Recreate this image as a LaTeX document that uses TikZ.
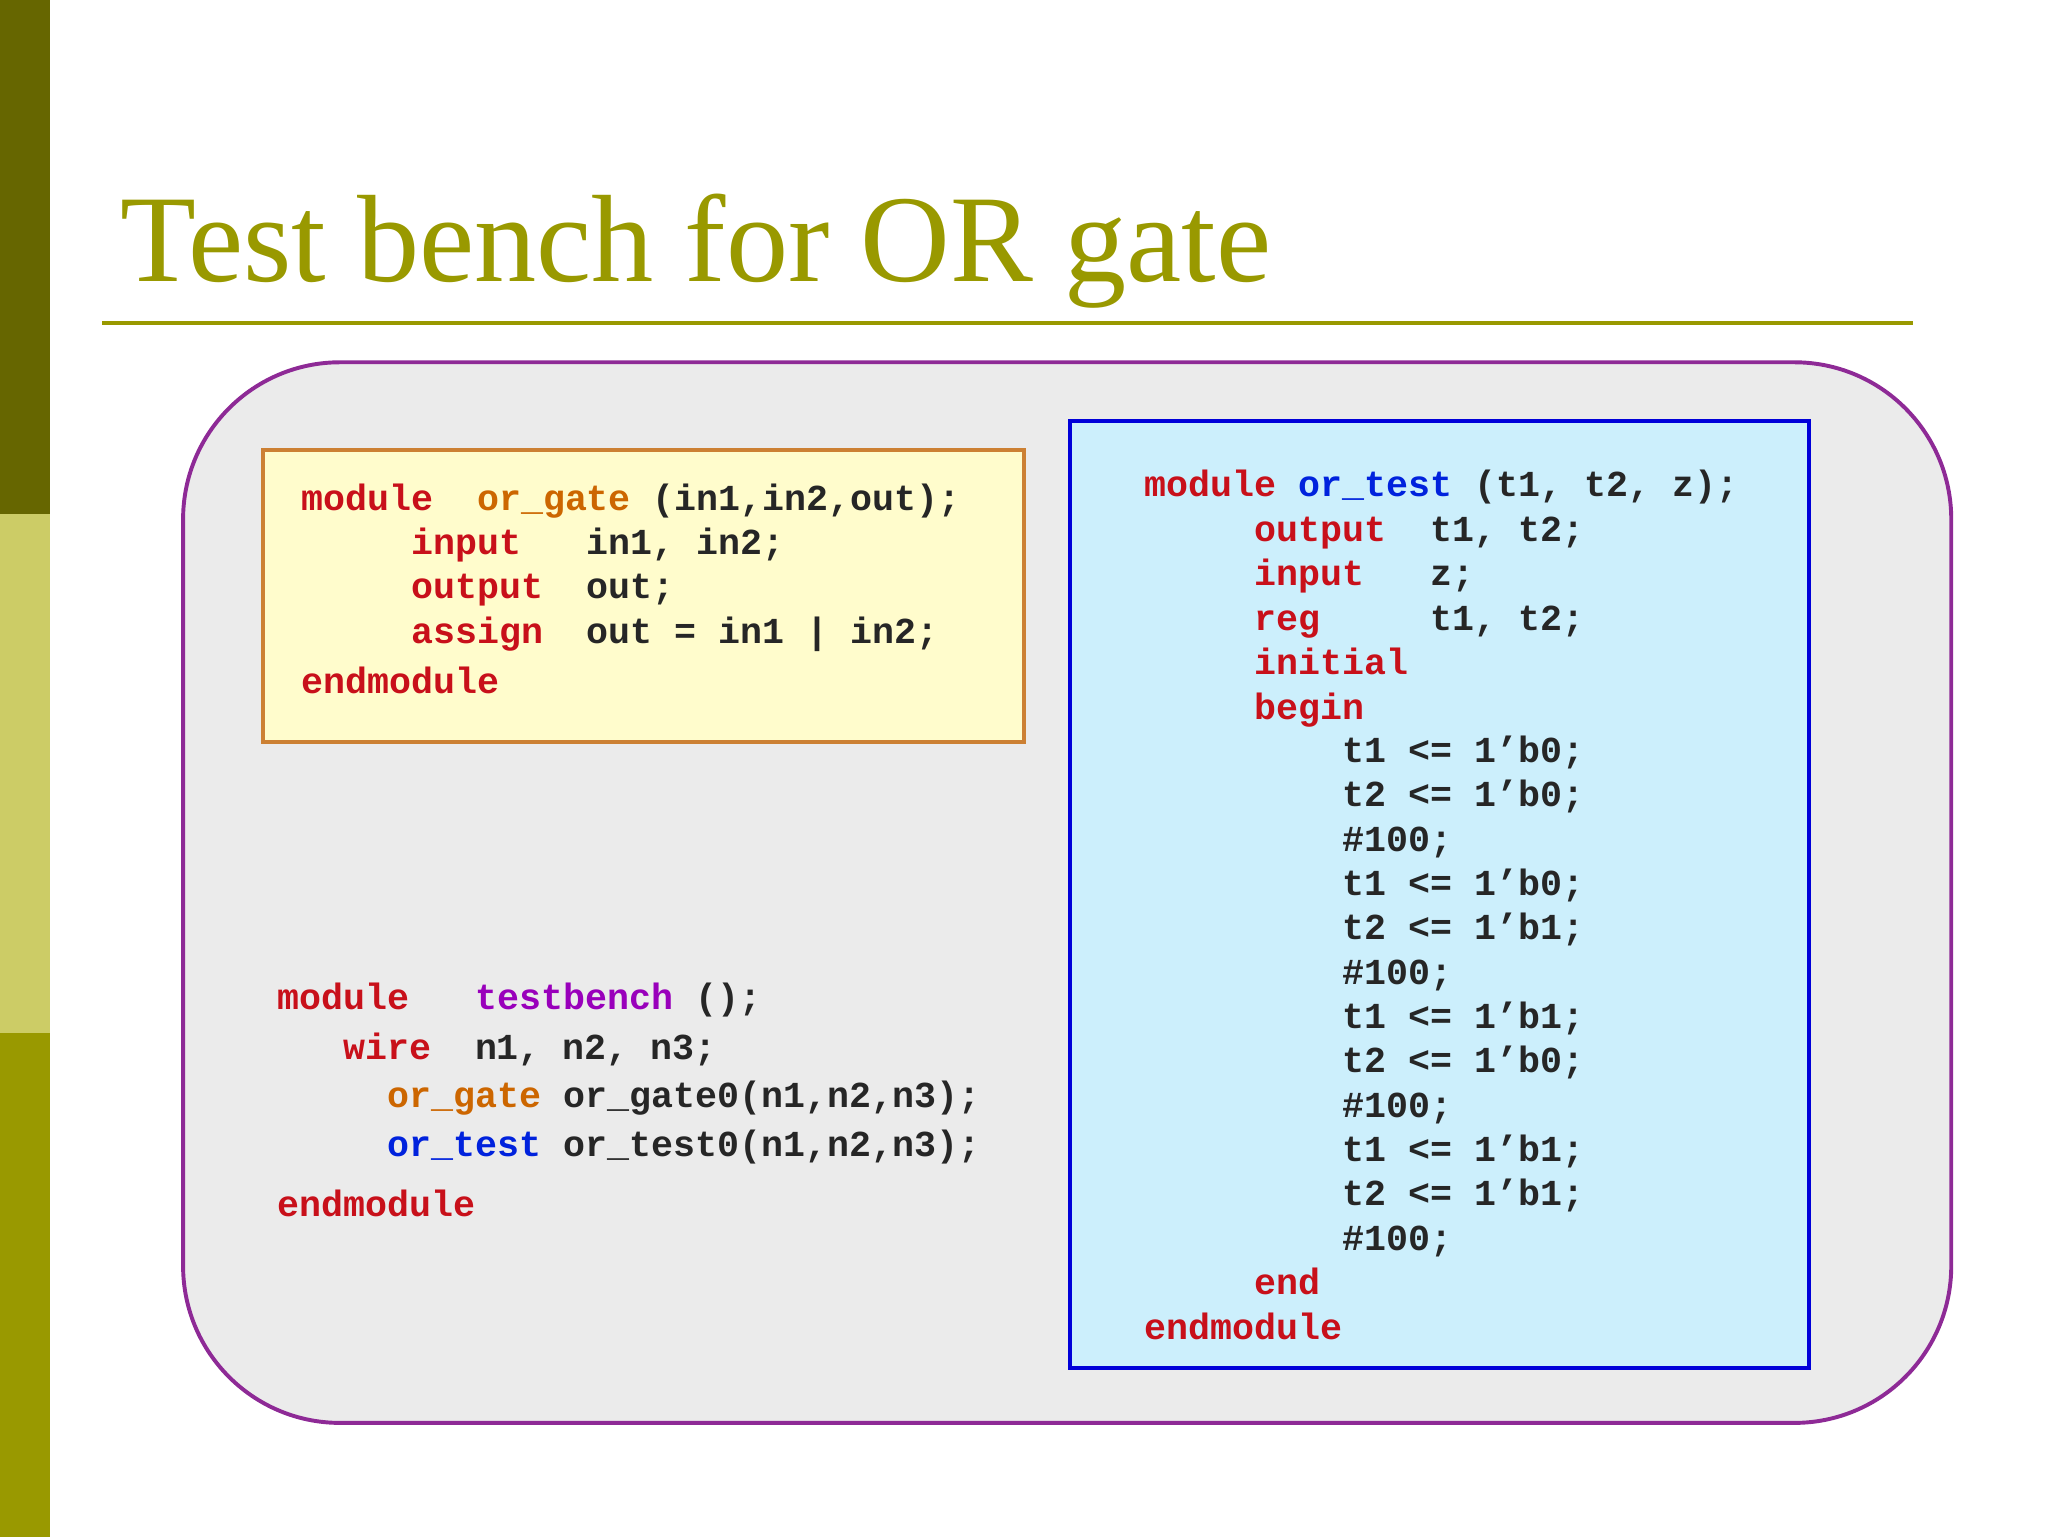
\documentclass[tikz,border=0pt]{standalone}
\usepackage{fontspec}
\setmainfont{Liberation Serif}
\setmonofont{Liberation Mono}
\definecolor{olivedark}{HTML}{666600}
\definecolor{olivelight}{HTML}{CCCC66}
\definecolor{olive}{HTML}{999900}
\definecolor{kw}{HTML}{C8101A}
\definecolor{modnm}{HTML}{CC6600}
\definecolor{tbnm}{HTML}{9900BB}
\definecolor{testnm}{HTML}{0022DD}
\definecolor{panelrim}{HTML}{8E2A96}
\newcommand{\kw}[1]{\textcolor{kw}{#1}}
\tikzset{
  code/.style={anchor=base west,inner sep=0pt,font=\ttfamily\bfseries\fontsize{14}{16}\selectfont,text=black!85},
  panel/.style={line width=1.5pt}
}
\begin{document}
\begin{tikzpicture}[x=0.5pt,y=-0.5pt]
\useasboundingbox (0,0) rectangle (1566,1175);
% side bar
\fill[olivedark] (0,0) rectangle (38,393);
\fill[olivelight] (0,393) rectangle (38,790);
\fill[olive] (0,790) rectangle (38,1175);
% title
\node[anchor=base west,inner sep=0pt,text=olive,font=\fontsize{47.5}{52}\selectfont] (title) at (92,215) {Test bench for OR gate};
\draw[olive,line width=1.2pt] (78,247) -- (1463,247);
% outer panel
\draw[panel,draw=panelrim,fill=black!8,rounded corners=60pt] (140,277) rectangle (1492,1088);
% or_gate module
\draw[panel,draw=brown!80!orange,fill=yellow!20] (201,344) rectangle (783,567);
\node[code] (g1) at (230,390) {\kw{module}~~\textcolor{modnm}{or\_gate} (in1,in2,out);};
\node[code] (g2) at (314,424) {\kw{input}~~~in1, in2;};
\node[code] (g3) at (314,458) {\kw{output}~~out;};
\node[code] (g4) at (314,492) {\kw{assign}~~out = in1 | in2;};
\node[code] (g5) at (230,530) {\kw{endmodule}};
% testbench
\node[code] (b1) at (212,772) {\kw{module}~~~\textcolor{tbnm}{testbench} ();};
\node[code] (b2) at (262,810) {\kw{wire}~~n1, n2, n3;};
\node[code] (b3) at (296,847) {\textcolor{modnm}{or\_gate} or\_gate0(n1,n2,n3);};
\node[code] (b4) at (296,884) {\textcolor{testnm}{or\_test} or\_test0(n1,n2,n3);};
\node[code] (b5) at (212,930) {\kw{endmodule}};
% or_test module
\draw[panel,draw=blue!85!black,fill=cyan!20] (818,322) rectangle (1383,1046);
\node[code] (t1) at (875,380) {\kw{module} \textcolor{testnm}{or\_test} (t1, t2, z);};
\node[code] (t2) at (959,414) {\kw{output}~~t1, t2;};
\node[code] (t3) at (959,448) {\kw{input}~~~z;};
\node[code] (t4) at (959,482) {\kw{reg}~~~~~t1, t2;};
\node[code] (t5) at (959,516) {\kw{initial}};
\node[code] (t6) at (959,550) {\kw{begin}};
\foreach \txt [count=\i from 0] in {t1 <= 1’b0;,t2 <= 1’b0;,\#100;,t1 <= 1’b0;,t2 <= 1’b1;,\#100;,t1 <= 1’b1;,t2 <= 1’b0;,\#100;,t1 <= 1’b1;,t2 <= 1’b1;,\#100;}
  \node[code] (s\i) at (1026,583+33.9*\i) {\txt};
\node[code] (t7) at (959,990) {\kw{end}};
\node[code] (t8) at (875,1024) {\kw{endmodule}};
\end{tikzpicture}
\end{document}
